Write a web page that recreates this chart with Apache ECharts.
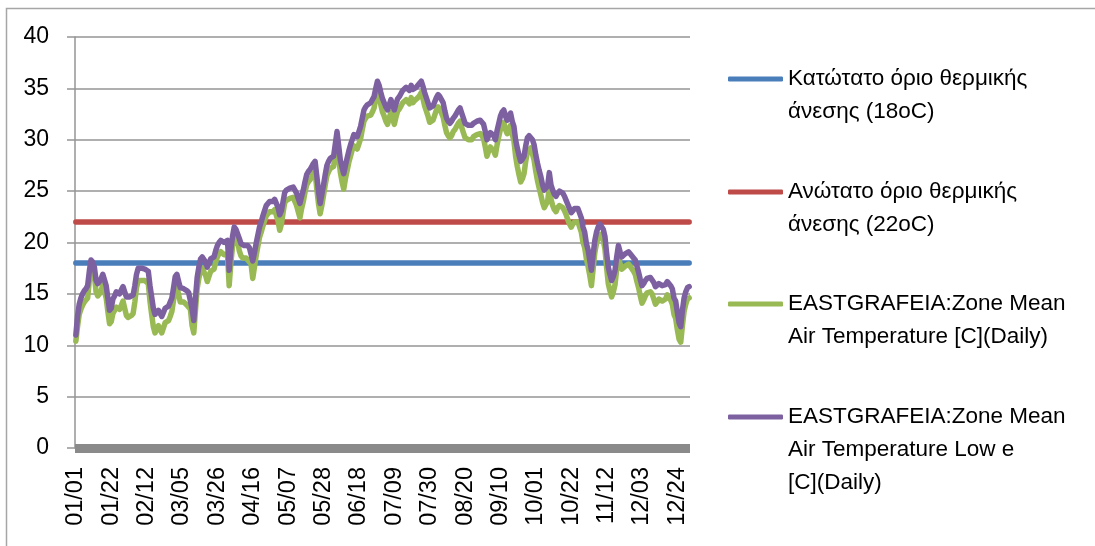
<!DOCTYPE html>
<html>
<head>
<meta charset="utf-8">
<script src="https://cdn.jsdelivr.net/npm/echarts@6/dist/echarts.min.js"></script>
<style>
    html, body { margin: 0; padding: 0; background: #fff; }
    #main { width: 1095px; height: 546px; }
</style>
</head>
<body>
<div id="main"></div>
<script>
// ημερομηνίες (μη δίσεκτο έτος)
var monthDays = [31, 28, 31, 30, 31, 30, 31, 31, 30, 31, 30, 31];
var days = [];
for (var m = 0; m < 12; m++) {
    for (var d = 1; d <= monthDays[m]; d++) {
        days.push((m < 9 ? '0' : '') + (m + 1) + '/' + (d < 10 ? '0' : '') + d);
    }
}

var yTicks = [0, 5, 10, 15, 20, 25, 30, 35, 40];

// όρια θερμικής άνεσης
var lowerLimit = 18;
var upperLimit = 22;

// EASTGRAFEIA:Zone Mean Air Temperature [C](Daily)
var meanTemp = [
    10.4,11.8,13.0,13.5,13.9,14.2,14.3,14.6,16.3,17.6,
    17.4,16.8,15.2,14.8,15.0,15.3,15.9,16.0,14.6,13.3,
    12.1,12.3,13.1,13.4,13.7,13.6,13.5,13.9,14.3,13.6,
    12.9,12.7,12.8,12.9,13.1,14.2,15.6,16.3,16.2,16.3,
    16.2,16.3,16.2,16.0,14.3,13.0,11.8,11.2,11.6,11.9,
    11.5,11.2,11.7,12.2,12.3,12.4,12.8,13.3,14.4,15.6,
    15.8,14.9,14.2,14.1,14.2,14.1,13.9,13.7,13.5,11.9,
    11.2,13.4,15.5,16.5,17.3,17.5,17.6,16.8,16.2,16.7,
    17.2,17.3,17.4,18.1,18.6,18.9,19.1,19.0,18.8,18.9,
    18.9,15.8,18.0,19.6,20.6,20.4,20.2,19.2,18.7,18.5,
    18.4,18.5,18.4,18.1,17.9,16.5,17.6,18.7,19.6,20.5,
    21.0,21.6,22.1,22.6,22.8,23.0,23.0,23.0,23.2,23.3,
    22.1,21.2,21.8,22.9,23.9,24.1,24.2,24.3,24.4,24.4,
    24.0,23.6,23.0,22.4,23.3,24.0,24.9,25.6,25.9,26.1,
    26.4,26.7,26.9,25.2,23.8,22.8,23.6,24.6,25.6,26.5,
    26.9,27.2,27.3,27.4,28.7,29.9,28.3,26.8,25.9,25.2,
    26.2,27.0,27.8,28.4,29.0,29.4,29.3,29.1,29.6,30.1,
    31.0,31.8,32.1,32.3,32.4,32.4,32.7,33.1,34.0,34.7,
    34.2,33.4,32.7,32.3,31.8,31.5,32.1,32.7,32.1,31.5,
    32.2,32.8,33.0,33.3,33.6,33.7,33.9,34.0,33.5,34.1,
    33.6,33.8,33.9,34.1,34.3,34.6,34.0,33.3,32.8,32.3,
    31.7,31.8,31.9,32.4,32.9,33.2,33.0,32.6,32.2,31.4,
    30.7,30.4,30.2,30.4,30.8,31.0,31.3,31.6,31.8,31.2,
    30.7,30.2,30.1,30.0,29.9,30.0,30.3,30.4,30.5,30.6,
    30.6,30.4,30.1,29.3,28.4,28.9,29.3,29.4,28.9,28.5,
    29.5,30.3,31.0,31.4,31.7,31.0,30.6,31.0,31.4,30.5,
    29.9,28.4,27.4,26.6,25.9,26.2,26.7,27.9,28.8,29.0,
    29.2,28.6,28.0,26.9,26.0,25.3,24.6,23.9,23.4,23.7,
    24.0,25.4,24.2,23.6,23.2,23.0,23.4,23.6,23.6,23.4,
    23.1,22.7,22.2,21.8,21.5,21.8,22.0,22.0,22.0,21.9,
    21.0,20.0,19.5,18.4,17.7,16.8,15.8,17.4,19.0,19.9,
    20.5,20.8,20.9,20.2,19.4,17.6,16.0,15.3,14.7,15.2,
    15.9,17.4,18.6,17.9,17.4,17.5,17.7,17.8,17.9,17.7,
    17.6,17.2,16.9,16.2,15.6,14.8,14.1,14.4,14.8,15.1,
    15.2,15.2,15.0,14.5,14.0,14.2,14.5,14.4,14.3,14.2,
    14.5,14.9,15.0,14.4,14.0,13.0,12.6,11.5,10.6,10.3,
    11.9,13.3,14.0,14.5,14.6
];

// EASTGRAFEIA:Zone Mean Air Temperature Low e [C](Daily)
var lowETemp = [
    11.0,12.8,14.0,14.6,15.0,15.3,15.5,15.8,17.2,18.3,
    18.1,17.6,16.3,16.0,16.2,16.5,16.9,17.0,15.8,14.6,
    13.4,13.6,14.5,14.8,15.2,15.1,15.0,15.4,15.7,15.2,
    14.7,14.6,14.7,14.8,14.9,15.8,16.9,17.5,17.4,17.5,
    17.4,17.4,17.3,17.2,15.8,14.7,13.6,13.0,13.2,13.4,
    13.1,12.8,13.2,13.6,13.7,13.8,14.2,14.6,15.6,16.7,
    16.9,16.2,15.6,15.5,15.5,15.4,15.3,15.1,15.0,13.5,
    12.4,14.6,16.6,17.6,18.4,18.6,18.7,18.1,17.6,18.0,
    18.4,18.5,18.6,19.2,19.7,20.0,20.2,20.1,20.0,20.1,
    20.2,17.3,19.3,20.6,21.5,21.3,21.2,20.4,19.9,19.8,
    19.7,19.7,19.7,19.5,19.4,18.2,19.0,19.9,20.7,21.5,
    22.0,22.6,23.1,23.6,23.8,24.0,24.0,24.0,24.2,24.3,
    23.4,22.7,23.1,24.0,24.9,25.1,25.2,25.3,25.4,25.4,
    25.1,24.8,24.3,23.8,24.5,25.1,25.9,26.6,26.9,27.1,
    27.4,27.7,27.9,26.5,25.0,23.8,24.7,25.6,26.6,27.5,
    27.9,28.2,28.3,28.4,29.6,30.8,29.4,28.0,27.3,26.7,
    27.5,28.2,28.9,29.5,30.0,30.5,30.4,30.3,30.8,31.3,
    32.1,32.9,33.2,33.4,33.5,33.6,33.9,34.2,35.0,35.7,
    35.3,34.6,34.0,33.6,33.2,32.9,33.4,33.9,33.4,32.9,
    33.5,34.0,34.2,34.5,34.8,34.9,35.1,35.2,34.8,35.3,
    34.9,35.0,35.1,35.3,35.5,35.7,35.2,34.6,34.1,33.6,
    33.1,33.2,33.3,33.7,34.1,34.4,34.2,33.9,33.6,32.8,
    32.1,31.8,31.6,31.8,32.1,32.3,32.6,32.9,33.1,32.6,
    32.1,31.6,31.5,31.4,31.3,31.4,31.6,31.7,31.8,31.9,
    31.9,31.7,31.5,30.8,30.0,30.4,30.7,30.8,30.4,30.0,
    30.9,31.6,32.3,32.7,32.9,32.3,31.9,32.3,32.6,31.8,
    31.3,30.0,29.2,28.5,27.9,28.1,28.4,29.4,30.2,30.4,
    30.5,30.0,29.5,28.5,27.7,27.0,26.4,25.6,25.1,25.3,
    25.5,26.8,25.6,25.1,24.7,24.5,24.8,25.0,25.0,24.8,
    24.5,24.1,23.7,23.3,22.9,23.1,23.3,23.3,23.3,23.2,
    22.4,21.5,21.0,19.9,19.3,18.3,17.3,18.8,20.2,21.0,
    21.5,21.8,21.9,21.3,20.6,19.0,17.6,16.9,16.3,16.7,
    17.3,18.6,19.7,19.1,18.6,18.7,18.9,19.0,19.1,18.9,
    18.8,18.5,18.3,17.7,17.1,16.4,15.8,16.0,16.3,16.5,
    16.6,16.6,16.5,16.1,15.7,15.8,16.0,15.9,15.8,15.7,
    15.9,16.2,16.3,15.8,15.5,14.6,14.3,13.2,12.2,11.8,
    13.4,14.6,15.2,15.6,15.7
];

var names = [
    'Κατώτατο όριο θερμικής\nάνεσης (18oC)',
    'Ανώτατο όριο θερμικής\nάνεσης (22oC)',
    'EASTGRAFEIA:Zone Mean\nAir Temperature [C](Daily)',
    'EASTGRAFEIA:Zone Mean\nAir Temperature Low e\n[C](Daily)'
];
var colors = ['#4A7EBB', '#BE4B48', '#98B954', '#7D60A0'];

var lowerLine = days.map(function () { return lowerLimit; });
var upperLine = days.map(function () { return upperLimit; });

var font = '"Liberation Sans", Arial, sans-serif';
var lineH = 33;

// ένα legend ανά σειρά: κενές γραμμές πάνω από το κείμενο ώστε
// η γραμμή του legend να στοιχίζεται με την πρώτη σειρά (όπως στο Excel)
function makeLegend(idx, centerY) {
    var lines = names[idx].split('\n').length;
    var blank = lines - 1;
    var total = lines + blank;
    return {
        show: true,
        orient: 'vertical',
        left: 728,
        top: centerY - total * lineH / 2,
        padding: 0,
        itemWidth: 55,
        itemHeight: 5,
        icon: 'roundRect',
        selectedMode: false,
        data: [names[idx]],
        formatter: function (name) {
            var pre = '';
            for (var k = 0; k < blank; k++) pre += ' \n';
            return pre + name;
        },
        textStyle: {
            color: '#000',
            fontSize: 22.5,
            fontFamily: font,
            lineHeight: lineH
        }
    };
}

function mkSeries(idx, data) {
    return {
        name: names[idx],
        type: 'line',
        data: data,
        symbol: 'none',
        smooth: false,
        animation: false,
        color: colors[idx],
        lineStyle: { width: 5.5, color: colors[idx], cap: 'round', join: 'round' },
        emphasis: { disabled: true }
    };
}

var chart = echarts.init(document.getElementById('main'));
var option = {
    backgroundColor: '#fff',
    animation: false,
    graphic: [{
        type: 'rect',
        shape: { x: 6.5, y: 8.5, width: 1200, height: 700 },
        style: { fill: 'none', stroke: '#a6a6a6', lineWidth: 1.5 },
        silent: true
    }],
    grid: {
        left: 75,
        right: 405,
        top: 37,
        bottom: 98,
        containLabel: false,
        outerBoundsMode: 'none'
    },
    legend: [
        makeLegend(0, 79),
        makeLegend(1, 192),
        makeLegend(2, 304),
        makeLegend(3, 417)
    ],
    xAxis: {
        type: 'category',
        data: days,
        boundaryGap: true,
        offset: 3,
        axisLine: { show: true, lineStyle: { color: '#8a8a8a', width: 9, cap: 'butt' } },
        axisTick: { show: false },
        splitLine: { show: false },
        axisLabel: {
            interval: 20,
            rotate: 90,
            margin: 16,
            color: '#000',
            fontSize: 23.5,
            fontFamily: font
        }
    },
    yAxis: {
        type: 'value',
        min: yTicks[0],
        max: yTicks[yTicks.length - 1],
        interval: 5,
        axisLine: { show: true, lineStyle: { color: '#959595', width: 1.5 } },
        axisTick: { show: true, inside: false, length: 8, lineStyle: { color: '#959595', width: 1.5 } },
        splitLine: { show: true, lineStyle: { color: '#959595', width: 1.5 } },
        axisLabel: {
            margin: 26,
            color: '#000',
            fontSize: 23,
            fontFamily: font
        }
    },
    series: [
        mkSeries(0, lowerLine),
        mkSeries(1, upperLine),
        mkSeries(2, meanTemp),
        mkSeries(3, lowETemp)
    ]
};

if (option && typeof option === "object") {
    chart.setOption(option);
}
</script>
</body>
</html>
